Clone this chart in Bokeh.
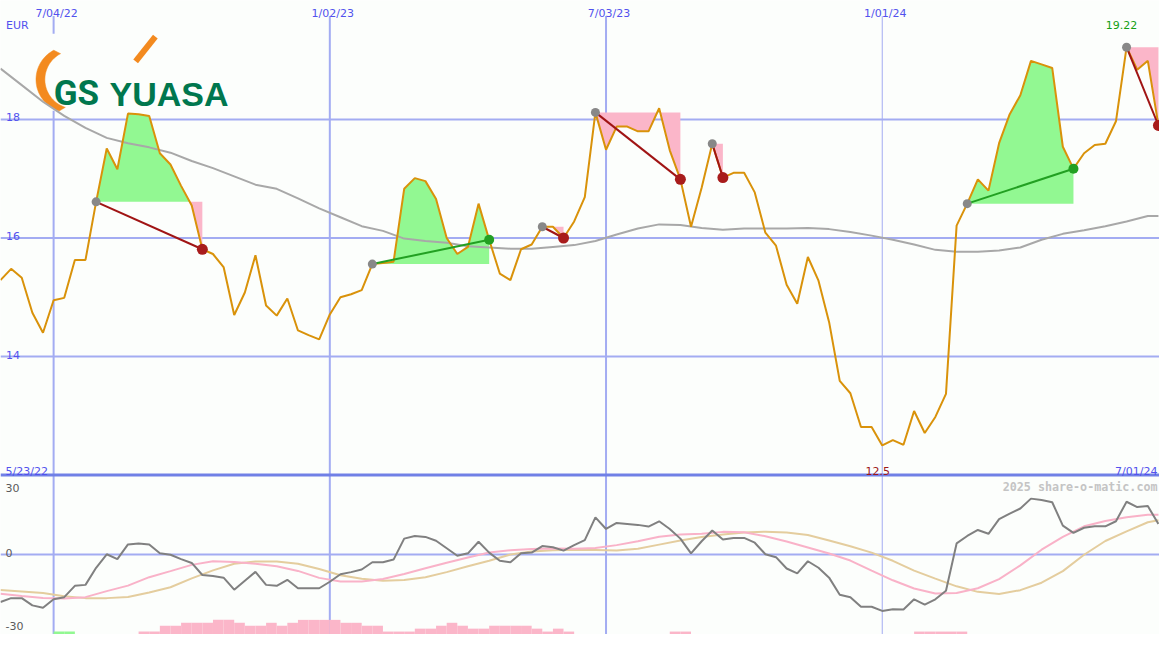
import numpy as np
import pandas as pd
from bokeh.plotting import figure
from bokeh.models import Range1d, Span
from bokeh.core.properties import value
from bokeh.embed import file_html
from bokeh.resources import INLINE

# ---------------- data ----------------
dates = pd.date_range("2022-05-30", periods=110, freq="7D")

price = [15.29, 15.48, 15.33, 14.74, 14.40, 14.95, 14.99, 15.63, 15.63, 16.61,
         17.51, 17.16, 18.10, 18.09, 18.06, 17.43, 17.24, 16.88, 16.55, 15.81,
         15.73, 15.51, 14.70, 15.08, 15.71, 14.86, 14.69, 14.98, 14.44, 14.36,
         14.29, 14.71, 15.00, 15.05, 15.12, 15.56, 15.58, 15.60, 16.83, 17.01,
         16.96, 16.66, 16.00, 15.73, 15.85, 16.58, 15.97, 15.40, 15.29, 15.81,
         15.89, 16.19, 16.19, 16.00, 16.28, 16.69, 18.12, 17.49, 17.88, 17.88,
         17.80, 17.80, 18.19, 17.48, 16.99, 16.19, 16.85, 17.59, 17.02, 17.10,
         17.10, 16.77, 16.09, 15.87, 15.21, 14.89, 15.68, 15.28, 14.58, 13.59,
         13.38, 12.81, 12.81, 12.50, 12.59, 12.51, 13.08, 12.71, 12.98, 13.37,
         16.21, 16.58, 16.99, 16.80, 17.60, 18.09, 18.41, 18.99, 18.93, 18.87,
         17.54, 17.17, 17.43, 17.57, 17.59, 17.97, 19.22, 18.84, 18.99, 17.90]

# smooth lines are read every 2 weeks (plus the last week)
slow_idx = [0, 2, 4, 6, 8, 10, 12, 14, 16, 18, 20, 22, 24, 26, 28, 30, 32, 34, 36, 38,
            40, 42, 44, 46, 48, 50, 52, 54, 56, 58, 60, 62, 64, 66, 68, 70, 72, 74, 76, 78,
            80, 82, 84, 86, 88, 90, 92, 94, 96, 98, 100, 102, 104, 106, 108, 109]

# moving average of the price
ma_val = [18.86, 18.58, 18.30, 18.06, 17.86, 17.69, 17.60, 17.53, 17.44, 17.30,
          17.18, 17.04, 16.90, 16.83, 16.67, 16.50, 16.35, 16.20, 16.12, 15.99,
          15.95, 15.92, 15.86, 15.84, 15.82, 15.82, 15.85, 15.88, 15.95, 16.06,
          16.16, 16.23, 16.22, 16.17, 16.14, 16.16, 16.16, 16.16, 16.17, 16.15,
          16.10, 16.04, 15.97, 15.89, 15.80, 15.77, 15.77, 15.79, 15.84, 15.97,
          16.07, 16.13, 16.20, 16.28, 16.37, 16.37]

# lower panel: momentum (weekly) and two smooth signal lines
momentum = [-19.7, -18.1, -18.1, -21.1, -22.1, -18.6, -17.7, -13.0, -12.6, -5.5,
            0.1, -1.9, 4.2, 4.6, 4.2, 0.5, -0.1, -1.9, -3.5, -8.5,
            -8.9, -9.6, -14.6, -10.9, -7.2, -12.6, -13.0, -10.5, -14.0, -14.0,
            -14.0, -11.3, -8.2, -7.3, -6.2, -3.2, -3.2, -2.1, 6.6, 7.7,
            7.3, 5.7, 2.6, -0.5, 0.5, 5.3, 0.8, -2.6, -3.2, 0.5,
            0.8, 3.5, 3.0, 1.6, 3.9, 6.0, 15.4, 10.6, 13.1, 12.7,
            12.3, 11.6, 13.8, 10.6, 6.6, 0.5, 5.5, 10.0, 6.2, 6.9,
            6.9, 4.9, 0.1, -1.1, -5.8, -7.8, -2.8, -5.5, -9.6, -16.7,
            -17.7, -21.7, -21.7, -23.4, -22.7, -22.8, -18.6, -20.8, -18.6, -15.0,
            4.6, 7.7, 10.2, 8.6, 14.7, 17.0, 19.1, 23.2, 22.6, 21.7,
            12.0, 9.0, 11.1, 11.7, 11.7, 13.8, 21.9, 19.7, 20.1, 12.7]
osc_pink = [-16.3, -17.2, -18.0, -18.3, -17.7, -15.2, -12.9, -9.4, -6.9, -4.3,
            -2.8, -3.1, -3.8, -4.9, -6.8, -9.7, -11.2, -11.2, -10.2, -8.1,
            -5.7, -3.4, -1.2, 0.8, 1.8, 2.3, 2.5, 2.4, 2.7, 3.9,
            5.5, 7.4, 8.3, 8.6, 9.4, 9.2, 7.6, 5.4, 2.9, 0.4,
            -2.5, -6.7, -10.7, -14.1, -16.2, -16.0, -14.0, -10.2, -4.5, 2.0,
            7.3, 11.7, 13.9, 15.5, 16.5, 16.5]
osc_tan = [-14.7, -15.3, -16.0, -17.3, -18.1, -18.1, -17.6, -15.8, -13.6, -9.9,
           -6.6, -3.8, -2.9, -2.9, -3.8, -6.0, -8.6, -10.1, -10.9, -10.6,
           -9.4, -7.3, -4.9, -2.6, 0.0, 1.3, 1.8, 2.0, 1.9, 1.7,
           2.4, 4.1, 5.8, 7.3, 8.3, 9.1, 9.5, 9.1, 8.1, 5.8,
           3.4, 0.8, -2.6, -6.7, -10.0, -13.2, -15.5, -16.4, -14.8, -11.7,
           -6.9, -0.1, 5.6, 9.6, 13.4, 14.2]

# weekly bar levels at the bottom of the lower panel
bar_pink = [0, 0, 0, 0, 0, 0, 0, 0, 0, 0, 0, 0, 0, 1, 1, 3, 3, 4, 4, 4,
            5, 5, 4, 3, 3, 4, 3, 4, 5, 5, 5, 5, 4, 4, 3, 3, 1, 1, 1, 2,
            2, 3, 4, 3, 2, 2, 3, 3, 3, 3, 2, 1, 2, 1, 0, 0, 0, 0, 0, 0,
            0, 0, 0, 1, 1, 0, 0, 0, 0, 0, 0, 0, 0, 0, 0, 0, 0, 0, 0, 0,
            0, 0, 0, 0, 0, 0, 1, 1, 1, 1, 1, 0, 0, 0, 0, 0, 0, 0, 0, 0,
            0, 0, 0, 0, 0, 0, 0, 0, 0, 0]
bar_green = [0, 0, 0, 0, 0, 1, 1, 0, 0, 0, 0, 0, 0, 0, 0, 0, 0, 0, 0, 0,
             0, 0, 0, 0, 0, 0, 0, 0, 0, 0, 0, 0, 0, 0, 0, 0, 0, 0, 0, 0,
             0, 0, 0, 0, 0, 0, 0, 0, 0, 0, 0, 0, 0, 0, 0, 0, 0, 0, 0, 0,
             0, 0, 0, 0, 0, 0, 0, 0, 0, 0, 0, 0, 0, 0, 0, 0, 0, 0, 0, 0,
             0, 0, 0, 0, 0, 0, 0, 0, 0, 0, 0, 0, 0, 0, 0, 0, 0, 0, 0, 0,
             0, 0, 0, 0, 0, 0, 0, 0, 0, 0]

# trades: entry / exit week indices
entries = [9, 35, 51, 56, 67, 91, 106]
exits = [19, 46, 53, 64, 68, 101, 109]

grid_dates = ["2022-07-04", "2023-01-02", "2023-07-03", "2024-01-01"]
grid_labels = ["7/04/22", "1/02/23", "7/03/23", "1/01/24"]
grid_widths = [2, 2, 2, 1]
price_ticks = [18, 16, 14]
osc_ticks = [30, 0, -30]
currency = "EUR"
first_label = "5/23/22"
last_label = "7/01/24"
credit = "2025 share-o-matic.com"

# ---------------- layout / style ----------------
W, H = 1159, 634
REF_W, REF_H = 1175, 650
PX_PER_EUR = 60.75
Y_HI = 18 + 122 / PX_PER_EUR
Y_LO = 18 - (REF_H - 122) / PX_PER_EUR
PANEL_SPLIT = 12.0
PX_PER_OSC = 2.47
OSC_HI = 568 / PX_PER_OSC
OSC_LO = (568 - REF_H) / PX_PER_OSC
BAR_UNIT = 3 / PX_PER_OSC
WEEK_PX = 10.77

BG = "#fcfefc"
GRID = "#a3acf2"
SEP = "#7080e6"
BLUE_TXT = "#5252ee"
PRICE_C = "#d9920a"
MA_C = "#a8a8a8"
FILL_G = "#92f892"
FILL_P = "#fbb6c9"
MOM_C = "#808080"
PINK_C = "#f9b2c8"
TAN_C = "#e4cd9e"
LOGO_G = "#00774e"
LOGO_O = "#f38a1f"

x_start = dates[0].to_pydatetime()
x_end = (dates[0] + pd.Timedelta(days=7 * REF_W / WEEK_PX)).to_pydatetime()

p = figure(width=W, height=H, x_axis_type="datetime",
           x_range=Range1d(x_start, x_end), y_range=Range1d(Y_LO, Y_HI),
           output_backend="svg", toolbar_location=None,
           x_axis_location=None, y_axis_location=None, min_border=0,
           background_fill_color=BG, border_fill_color=BG, outline_line_color=None)
p.xgrid.visible = False
p.ygrid.visible = False
p.extra_y_ranges = {"osc": Range1d(OSC_LO, OSC_HI), "py": Range1d(REF_H, 0)}
p.extra_x_ranges = {"px": Range1d(0, REF_W)}

# ---- grid ----
for v in price_ticks:
    p.add_layout(Span(location=v, dimension="width", line_color=GRID,
                      line_width=2, level="underlay"))
p.add_layout(Span(location=0, dimension="width", line_color=GRID, line_width=2,
                  y_range_name="osc", level="underlay"))
gd = [pd.Timestamp(d).to_pydatetime() for d in grid_dates]
p.segment(x0=gd, x1=gd, y0=[Y_LO] * len(gd), y1=[Y_HI - 16 / PX_PER_EUR] * len(gd),
          line_color=GRID, line_width=grid_widths, level="underlay")
p.add_layout(Span(location=PANEL_SPLIT, dimension="width", line_color=SEP,
                  line_width=3, level="underlay"))

# ---- logo (decoration, in reference-pixel space) ----
p.quad(left=[35], right=[238], top=[34], bottom=[113], fill_color=BG, line_color=None,
       x_range_name="px", y_range_name="py")
t = np.radians(np.linspace(118, 252, 60))
ox = 70 + 34 * np.cos(t)
oy = 81 - 34 * np.sin(t)
ix = 75 + 30 * np.cos(t[::-1])
iy = 81 - 30 * np.sin(t[::-1])
p.patch(x=np.concatenate([ox, ix]), y=np.concatenate([oy, iy]), fill_color=LOGO_O,
        line_color=LOGO_O, line_width=0.5, x_range_name="px", y_range_name="py")
p.line(x=[137, 157], y=[62.5, 37], line_color=LOGO_O, line_width=6, line_cap="butt",
       x_range_name="px", y_range_name="py")
p.text(x=[54], y=[95.5], text=["GS"], text_font=value("Roboto"),
       text_font_style="bold", text_font_size="35px", text_color=LOGO_G,
       text_baseline="alphabetic", x_range_name="px", y_range_name="py")
p.text(x=[110.5], y=[95.5], text=["YUASA"], text_font=value("Liberation Sans"),
       text_font_style="bold", text_font_size="34px", text_color=LOGO_G,
       text_baseline="alphabetic", x_range_name="px", y_range_name="py")


# ---- trade fills ----
def clipped(xs, ys, base, above):
    """outline for the fill between base and price, split at crossings"""
    xo, yo = [], []
    xn = np.array([d.value for d in xs], dtype=float)
    for k in range(len(ys)):
        if k > 0:
            a, b = ys[k - 1] - base, ys[k] - base
            if a * b < 0:
                f = a / (a - b)
                xo.append(xn[k - 1] + f * (xn[k] - xn[k - 1]))
                yo.append(base)
        yv = max(ys[k], base) if above else min(ys[k], base)
        xo.append(xn[k])
        yo.append(yv)
    return pd.to_datetime(np.array(xo, dtype="int64")), yo


for e, x in zip(entries, exits):
    d = dates[e:x + 1]
    pr = price[e:x + 1]
    base = price[e]
    gx, gy = clipped(d, pr, base, True)
    p.varea(x=gx, y1=base, y2=gy, fill_color=FILL_G)
    px_, py_ = clipped(d, pr, base, False)
    p.varea(x=px_, y1=py_, y2=base, fill_color=FILL_P)

# ---- moving average and price ----
p.line(x=[dates[i] for i in slow_idx], y=ma_val, line_color=MA_C, line_width=2)
p.line(x=dates, y=price, line_color=PRICE_C, line_width=2)

# ---- trade lines and dots ----
for e, x in zip(entries, exits):
    win = price[x] >= price[e]
    c = "#22a022" if win else "#a01414"
    p.segment(x0=[dates[e]], y0=[price[e]], x1=[dates[x]], y1=[price[x]],
              line_color=c, line_width=2)
p.scatter(x=[dates[e] for e in entries], y=[price[e] for e in entries],
          size=9, fill_color="#888888", line_color=None)
for e, x in zip(entries, exits):
    win = price[x] >= price[e]
    p.scatter(x=[dates[x]], y=[price[x]], size=11 if not win else 10,
              fill_color="#22a022" if win else "#a81c1c", line_color=None)

# ---- lower panel ----
half_week = pd.Timedelta(days=3.5)
week_ms = 7 * 24 * 3600 * 1000
bp = [i for i in range(len(dates)) if bar_pink[i] > 0]
p.vbar(x=[dates[i] + half_week for i in bp], width=week_ms, bottom=OSC_LO,
       top=[OSC_LO + bar_pink[i] * BAR_UNIT for i in bp], fill_color=FILL_P,
       line_color=None, y_range_name="osc")
bg_ = [i for i in range(len(dates)) if bar_green[i] > 0]
p.vbar(x=[dates[i] + half_week for i in bg_], width=week_ms, bottom=OSC_LO,
       top=[OSC_LO + bar_green[i] * BAR_UNIT for i in bg_], fill_color=FILL_G,
       line_color=None, y_range_name="osc")
p.line(x=[dates[i] for i in slow_idx], y=osc_tan, line_color=TAN_C, line_width=2,
       y_range_name="osc")
p.line(x=[dates[i] for i in slow_idx], y=osc_pink, line_color=PINK_C, line_width=2,
       y_range_name="osc")
p.line(x=dates, y=momentum, line_color=MOM_C, line_width=2, y_range_name="osc")

# ---- texts ----
F = value("DejaVu Sans")
p.text(x=gd, y=[Y_HI] * len(gd), text=grid_labels, text_font=F, text_font_size="11px",
       text_color=BLUE_TXT, text_align="center", text_baseline="alphabetic",
       x_offset=3, y_offset=12.5)
p.text(x=[x_start], y=[Y_HI], text=[currency], text_font=F, text_font_size="11px",
       text_color=BLUE_TXT, text_align="left", text_baseline="alphabetic",
       x_offset=5.5, y_offset=25)
p.text(x=[x_start] * len(price_ticks), y=price_ticks, text=[str(v) for v in price_ticks],
       text_font=F, text_font_size="11px", text_color=BLUE_TXT, text_align="left",
       text_baseline="alphabetic", x_offset=5.5, y_offset=-2)
p.text(x=[x_start], y=[PANEL_SPLIT], text=[first_label], text_font=F,
       text_font_size="11px", text_color=BLUE_TXT, text_align="left",
       text_baseline="alphabetic", x_offset=5, y_offset=-3.8)
p.text(x=[x_end], y=[PANEL_SPLIT], text=[last_label], text_font=F,
       text_font_size="11px", text_color=BLUE_TXT, text_align="right",
       text_baseline="alphabetic", x_offset=-2, y_offset=-3.8)
imin = int(np.argmin(price))
imax = int(np.argmax(price))
p.text(x=[dates[imin]], y=[PANEL_SPLIT], text=[f"{price[imin]:g}"], text_font=F,
       text_font_size="11px", text_color="#a01818", text_align="center",
       text_baseline="alphabetic", x_offset=-4.5, y_offset=-3.8)
p.text(x=[dates[imax]], y=[Y_HI], text=[f"{price[imax]:g}"], text_font=F,
       text_font_size="11px", text_color="#14a014", text_align="center",
       text_baseline="alphabetic", x_offset=-5, y_offset=24.5)
p.text(x=[x_end], y=[PANEL_SPLIT], text=[credit], text_font=value("DejaVu Sans Mono"),
       text_font_style="bold", text_font_size="11.7px", text_color="#c4c4c4",
       text_align="right", text_baseline="alphabetic", x_offset=-2, y_offset=12.3)
p.text(x=[x_start] * len(osc_ticks), y=osc_ticks, text=[str(v) for v in osc_ticks],
       text_font=F, text_font_size="11px", text_color="#5a5a5a", text_align="left",
       text_baseline="alphabetic", x_offset=5, y_offset=[5.3, -2, -0.5],
       y_range_name="osc")

open("out.html", "w").write(file_html(p, INLINE))
